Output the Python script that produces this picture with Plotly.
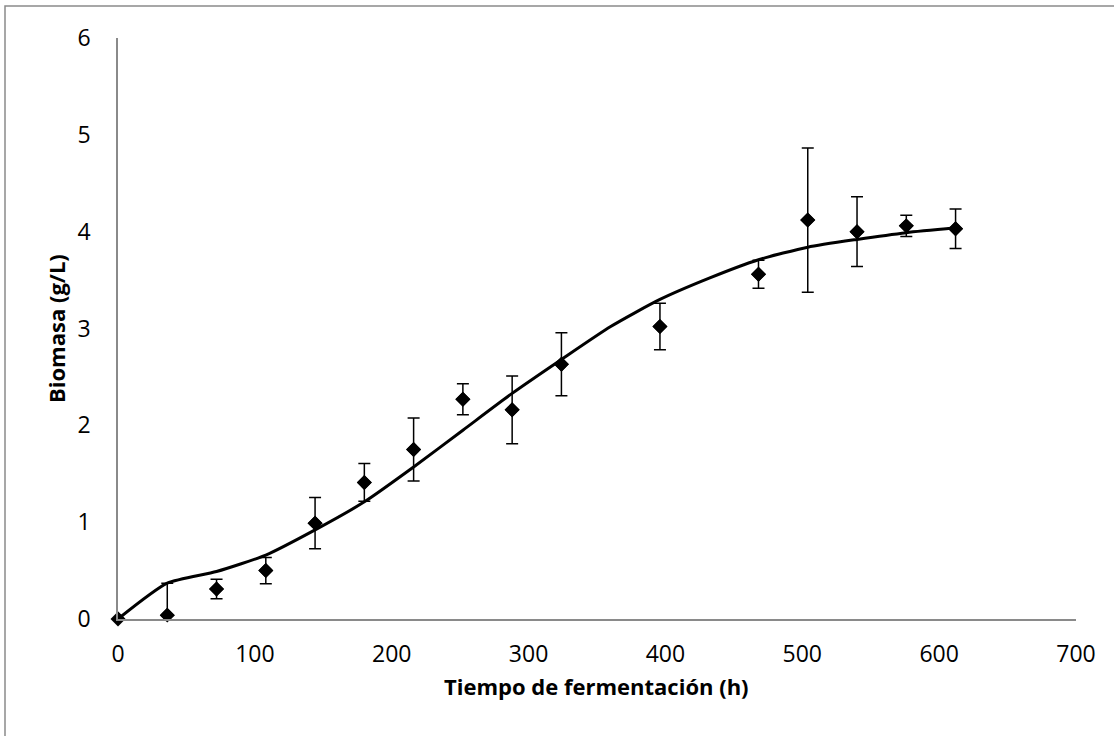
import plotly.graph_objects as go

# Experimental data
tiempo = [0, 36, 72, 108, 144, 180, 216, 252, 288, 324, 396, 468, 504, 540, 576, 612]
biomasa = [0.0, 0.04, 0.31, 0.50, 0.99, 1.41, 1.75, 2.27, 2.16, 2.63, 3.02, 3.56, 4.12, 4.00, 4.06, 4.03]
error = [0.0, 0.33, 0.10, 0.135, 0.265, 0.195, 0.325, 0.16, 0.35, 0.325, 0.24, 0.145, 0.745, 0.36, 0.11, 0.205]

# Model curve
tiempo_modelo = [0, 36, 72, 108, 144, 180, 216, 252, 288, 324, 360, 396, 432, 468, 504, 540, 576, 612]
biomasa_modelo = [0.0, 0.37, 0.49, 0.66, 0.92, 1.21, 1.57, 1.95, 2.33, 2.68, 3.02, 3.30, 3.52, 3.71, 3.84, 3.92, 3.99, 4.04]

x_ticks = [0, 100, 200, 300, 400, 500, 600, 700]
y_ticks = [0, 1, 2, 3, 4, 5, 6]

font_family = "Open Sans, Noto Sans, sans-serif"

L, R, T, B = 118, 1076, 38, 619  # plot area in page pixels
W, H = 1114, 736

fig = go.Figure()

fig.add_trace(go.Scatter(
    x=tiempo_modelo, y=biomasa_modelo, mode="lines",
    line=dict(color="black", width=3, shape="spline", smoothing=0.6),
    showlegend=False, hoverinfo="skip",
))

fig.add_trace(go.Scatter(
    x=tiempo, y=biomasa, mode="markers",
    marker=dict(symbol="diamond", size=11.5, color="black"),
    error_y=dict(type="data", array=error, visible=True, color="black",
                 thickness=1.5, width=6),
    cliponaxis=True, showlegend=False,
))

fig.add_trace(go.Scatter(
    x=tiempo, y=biomasa, mode="markers",
    marker=dict(symbol="diamond", size=11.5, color="black"),
    cliponaxis=False, showlegend=False, hoverinfo="skip",
))

axis_line = dict(showline=True, linecolor="#8a8a8a", linewidth=1.5, showgrid=False,
                 zeroline=False, ticks="outside", tickcolor="rgba(0,0,0,0)",
                 automargin=False,
                 tickfont=dict(family=font_family, size=23, color="black"))

fig.update_xaxes(range=[0, 700], tickvals=x_ticks, ticklen=14, **axis_line)
fig.update_yaxes(range=[0, 6], tickvals=y_ticks, ticklen=21, **axis_line)

pw, ph = R - L, B - T

def px_x(p):
    return (p - L) / pw

def px_y(p):
    return (B - p) / ph

fig.update_layout(
    width=W, height=H,
    margin=dict(l=L, r=W - R, t=T, b=H - B),
    plot_bgcolor="white", paper_bgcolor="white",
    shapes=[dict(type="rect", xref="paper", yref="paper",
                 x0=px_x(5), x1=px_x(1200), y0=px_y(800), y1=px_y(6),
                 line=dict(color="#8a8a8a", width=1.5), layer="below")],
    annotations=[
        dict(text="<b>Tiempo de fermentación (h)</b>", xref="paper", yref="paper",
             x=px_x(596), y=px_y(686), showarrow=False, xanchor="center", yanchor="middle",
             font=dict(family=font_family, size=22, color="black")),
        dict(text="<b>Biomasa (g/L)</b>", xref="paper", yref="paper",
             x=px_x(56), y=px_y(329), showarrow=False, xanchor="center", yanchor="middle",
             textangle=-90,
             font=dict(family=font_family, size=22, color="black")),
    ],
)

fig.write_html("out.html", config={"displayModeBar": False},
               post_script="document.body.style.margin='0';")
